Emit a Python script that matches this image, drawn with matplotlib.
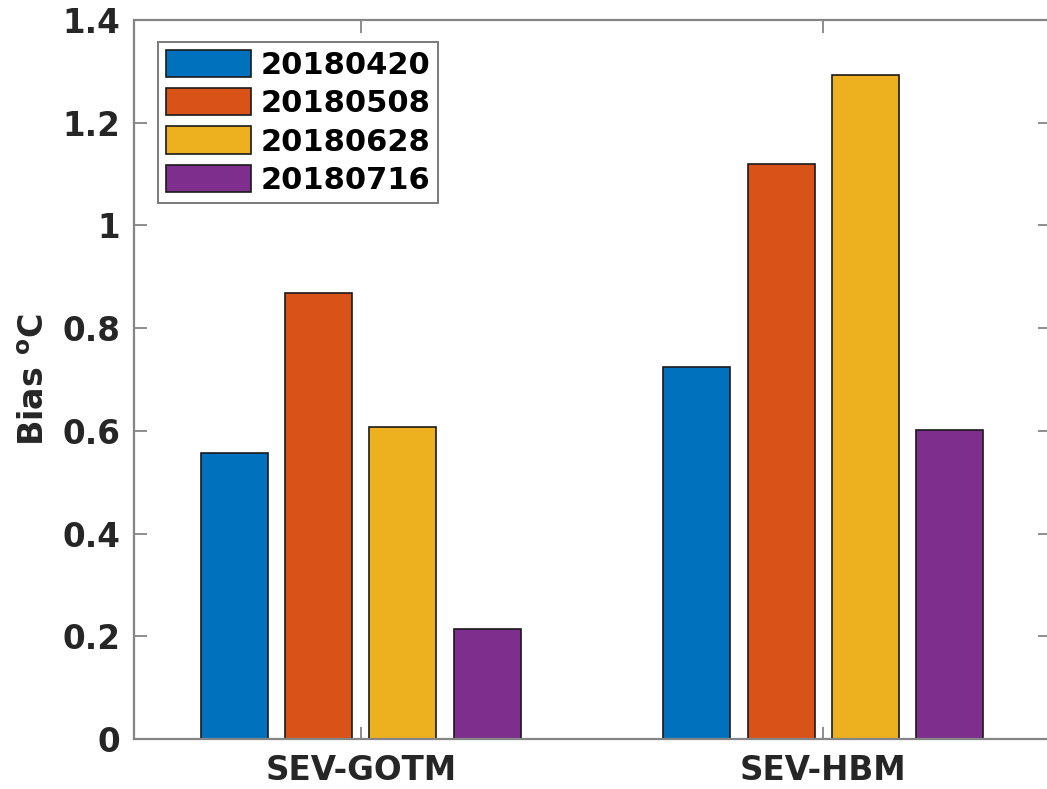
import matplotlib
matplotlib.use("Agg")
import matplotlib.pyplot as plt
import numpy as np

categories = ["SEV-GOTM", "SEV-HBM"]
series_labels = ["20180420", "20180508", "20180628", "20180716"]
series_values = [
    [0.557, 0.724],
    [0.868, 1.120],
    [0.607, 1.293],
    [0.214, 0.602],
]
colors = ["#0072BD", "#D95319", "#EDB120", "#7E2F8E"]
yticks = [0, 0.2, 0.4, 0.6, 0.8, 1.0, 1.2, 1.4]
ytick_labels = ["0", "0.2", "0.4", "0.6", "0.8", "1", "1.2", "1.4"]

plt.rcParams['font.family'] = ['DejaVu Sans']
plt.rcParams['font.weight'] = 'bold'
plt.rcParams['mathtext.default'] = 'bf'

fig = plt.figure(figsize=(10.47, 7.89), dpi=100)
ax = fig.add_axes([134/1047, 1-739/789, (1050-134)/1047, (739-20)/789])

x = np.arange(1, len(categories)+1)
step = 0.182
width = 0.145
n = len(series_labels)
for i, (lab, vals, c) in enumerate(zip(series_labels, series_values, colors)):
    off = (i - (n-1)/2) * step
    ax.bar(x + off, vals, width=width, color=c, edgecolor="#1a1a1a",
           linewidth=1.2, label=lab, zorder=2)

ax.set_xlim(0.509, 2.491)
ax.set_ylim(0, 1.4)
ax.set_xticks(x)
ax.set_xticklabels(categories)
ax.set_yticks(yticks)
ax.set_yticklabels(ytick_labels)

spine_col = "#858585"
for s in ax.spines.values():
    s.set_color(spine_col)
    s.set_linewidth(1.6)
    s.set_zorder(3)
ax.tick_params(direction="in", length=9, width=1.3, color=spine_col,
               top=True, right=True, labelsize=23.5, labelcolor="#262626")
ax.tick_params(axis="x", pad=11)
ax.tick_params(axis="y", pad=10)
for t in ax.get_xticklabels() + ax.get_yticklabels():
    t.set_fontweight("bold")

ax.set_ylabel(r"Bias $^{o}$C", fontsize=24, fontweight="bold",
              color="#262626", labelpad=8)

leg = ax.legend(loc="upper left", bbox_to_anchor=(158/1047, 1-42/789),
                bbox_transform=fig.transFigure, borderaxespad=0,
                prop={"weight": "bold", "size": 22},
                handlelength=2.8, handleheight=1.0, labelspacing=0.27,
                handletextpad=0.3, borderpad=0.25, fancybox=False,
                framealpha=1, edgecolor="#7a7a7a")
leg.get_frame().set_linewidth(1.4)

fig.savefig("out.png", dpi=100)
